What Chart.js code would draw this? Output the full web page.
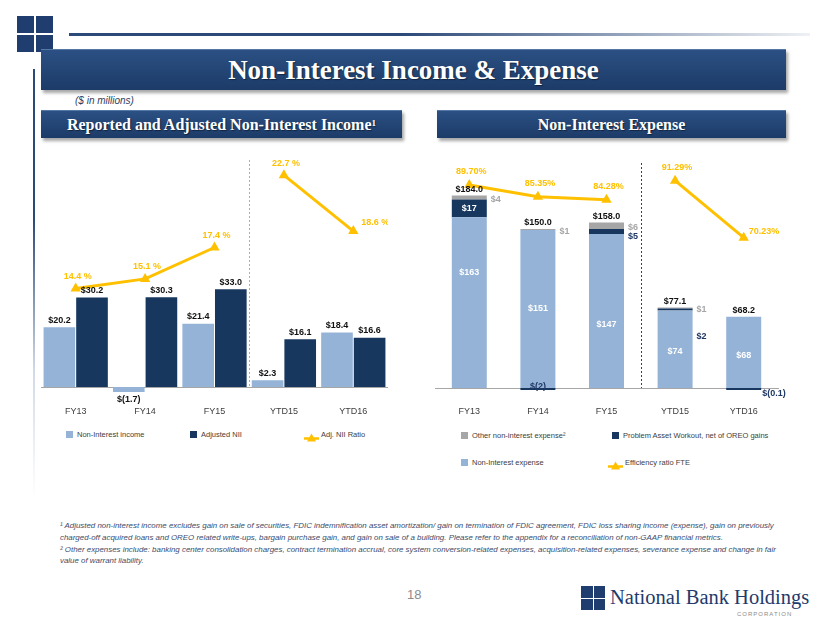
<!DOCTYPE html>
<html><head><meta charset="utf-8">
<script src="https://cdn.jsdelivr.net/npm/chart.js@4.4.1/dist/chart.umd.min.js"></script>
<style>
html,body{margin:0;padding:0;background:#fff;}
body{width:830px;height:623px;position:relative;overflow:hidden;font-family:'Liberation Sans',Arial,sans-serif;}
.abs{position:absolute;}
.sq{position:absolute;background:#203D70;}
.hbar{position:absolute;background:linear-gradient(#2B5083,#1C3B68);box-shadow:2px 3px 3px rgba(0,0,0,0.35);color:#fff;font-family:'Liberation Serif','Times New Roman',serif;font-weight:bold;display:flex;align-items:center;justify-content:center;border-top:1px solid #5577A3;box-sizing:border-box;text-shadow:1px 1px 1px rgba(0,0,0,0.45);white-space:nowrap;}
.leg{position:absolute;font-size:7.5px;color:#404040;white-space:nowrap;line-height:9px;}
.legsq{position:absolute;width:7px;height:7px;}
.foot{position:absolute;left:60px;top:520px;font-size:7.9px;font-style:italic;color:#3B4B6B;line-height:11.5px;white-space:nowrap;}
canvas{position:absolute;}
</style></head>
<body>
<!-- top logo -->
<div class="sq" style="left:17px;top:16px;width:17px;height:17px"></div>
<div class="sq" style="left:36px;top:16px;width:17px;height:17px"></div>
<div class="sq" style="left:17px;top:35px;width:17px;height:17px"></div>
<div class="sq" style="left:36px;top:35px;width:17px;height:17px"></div>
<div class="abs" style="left:69px;top:33px;width:741px;height:3px;background:linear-gradient(to right,#2C4A78 0%,#2C4A78 45%,rgba(44,74,120,0.08) 100%)"></div>
<div class="abs" style="left:33px;top:69px;width:2px;height:430px;background:linear-gradient(#2C4A78 0%,#2C4A78 35%,rgba(140,160,190,0.4) 70%,rgba(255,255,255,0) 100%)"></div>

<div class="hbar" style="left:41px;top:49px;width:745px;height:41px;font-size:27px;">Non-Interest Income &amp; Expense</div>
<div class="abs" style="left:75px;top:95px;font-size:10px;font-style:italic;color:#2E4063;line-height:12px;">($ in millions)</div>
<div class="hbar" style="left:41px;top:110px;width:361px;height:28px;font-size:16px;">Reported and Adjusted Non-Interest Income<sup style="font-size:9px;position:relative;top:-2px;">1</sup></div>
<div class="hbar" style="left:437px;top:110px;width:349px;height:28px;font-size:16px;">Non-Interest Expense</div>

<canvas id="c1" width="347" height="270" style="left:41px;top:150px;width:347px;height:270px"></canvas>
<canvas id="c2" width="378" height="270" style="left:435px;top:150px;width:378px;height:270px"></canvas>

<div id="legends"></div>

<div class="foot">¹ Adjusted non-interest income excludes gain on sale of securities, FDIC indemnification asset amortization/ gain on termination of FDIC agreement, FDIC loss sharing income (expense), gain on previously<br>charged-off acquired loans and OREO related write-ups, bargain purchase gain, and gain on sale of a building. Please refer to the appendix for a reconciliation of non-GAAP financial metrics.<br><div style="height:0.5px"></div>² Other expenses include: banking center consolidation charges, contract termination accrual, core system conversion-related expenses, acquisition-related expenses, severance expense and change in fair<br>value of warrant liability.</div>

<div class="abs" style="left:407px;top:587px;font-size:13px;color:#8C8C8C;line-height:15px;">18</div>

<!-- bottom logo -->
<div class="sq" style="left:581px;top:586px;width:11.5px;height:11.5px"></div>
<div class="sq" style="left:593.5px;top:586px;width:11.5px;height:11.5px"></div>
<div class="sq" style="left:581px;top:598.5px;width:11.5px;height:11.5px"></div>
<div class="sq" style="left:593.5px;top:598.5px;width:11.5px;height:11.5px"></div>
<div class="abs" style="left:610px;top:587px;font-family:'Liberation Serif','Times New Roman',serif;font-size:20.5px;line-height:20.5px;color:#1F3A6B;white-space:nowrap;">National Bank Holdings</div>
<div class="abs" style="left:737px;top:611px;font-size:6px;letter-spacing:1px;color:#8A8A8A;line-height:7px;">CORPORATION</div>

<script>
// ---------- data ----------
const categories = ['FY13', 'FY14', 'FY15', 'YTD15', 'YTD16'];
const nonInterestIncome = [20.2, -1.7, 21.4, 2.3, 18.4];
const adjustedNII = [30.2, 30.3, 33.0, 16.1, 16.6];
const adjNIIRatio = [14.4, 15.1, 17.4, 22.7, 18.6];
const nonInterestExpense = [163, 151, 147, 74, 68];
const problemAssetWorkout = [17, -2, 5, 2, -0.1];
const otherExpense = [4, 1, 6, 1, null];
const expenseTotals = [184.0, 150.0, 158.0, 77.1, 68.2];
const efficiencyRatio = [89.70, 85.35, 84.28, 91.29, 70.23];

// ---------- styles ----------
const C = {light:'#95B3D7', dark:'#17375E', gray:'#A6A6A6', gold:'#FFC000', navyText:'#1F3864'};
const FONT = "'Liberation Sans', Arial, sans-serif";
Chart.defaults.font.family = FONT;
const BOLD = 'bold 9px ' + FONT;

function money(v, dec) {
  const a = Math.abs(v);
  const s = dec == null ? (Number.isInteger(a) ? String(a) : a.toFixed(1)) : a.toFixed(dec);
  return v < 0 ? '$(' + s + ')' : '$' + s;
}

const sepPlugin = {
  id: 'sep',
  beforeDatasetsDraw(chart, args, opts) {
    const x = chart.scales.x;
    const px = Math.round((x.getPixelForValue(2) + x.getPixelForValue(3)) / 2) + 0.5;
    const ctx = chart.ctx;
    ctx.save();
    ctx.strokeStyle = opts.color; ctx.lineWidth = 1; ctx.setLineDash([2, 2]);
    ctx.beginPath(); ctx.moveTo(px, chart.chartArea.top + (opts.topOffset || 0)); ctx.lineTo(px, chart.chartArea.bottom); ctx.stroke();
    ctx.restore();
  }
};

const gapSegment = {borderColor: c => c.p0DataIndex === 2 ? 'rgba(0,0,0,0)' : C.gold};

function lineDataset(label, data) {
  return {type:'line', label, data, yAxisID:'y1', borderColor:C.gold, backgroundColor:C.gold,
    borderWidth:3, pointStyle:'triangle', pointRadius:6, pointBorderWidth:0,
    pointBackgroundColor:C.gold, order:0, clip:false, segment:gapSegment};
}

function xScale(pad, h) {
  return { grid:{display:false, drawTicks:false}, border:{display:true, color:'#A6A6A6', width:1},
    ticks:{color:'#404040', font:{size:9}, padding:pad},
    afterFit: s => { s.height = h; } };
}

// ---------- left chart ----------
const leftLabels = {
  id:'leftLabels',
  afterDatasetsDraw(chart) {
    const ctx = chart.ctx; ctx.save();
    ctx.textBaseline = 'middle'; ctx.font = BOLD;
    [1, 2].forEach(di => {
      const vals = chart.data.datasets[di].data;
      chart.getDatasetMeta(di).data.forEach((b, i) => {
        const v = vals[i];
        ctx.fillStyle = '#111'; ctx.textAlign = 'center';
        ctx.fillText(money(v, 1), b.x, v >= 0 ? b.y - 7 : b.y + 7);
      });
    });
    const pts = chart.getDatasetMeta(0).data;
    ctx.fillStyle = C.gold;
    pts.forEach((p, i) => {
      const t = adjNIIRatio[i].toFixed(1) + ' %';
      if (i === pts.length - 1) { ctx.textAlign = 'left'; ctx.fillText(t, p.x + 8, p.y - 9); }
      else { ctx.textAlign = 'center'; ctx.fillText(t, p.x + 2, p.y - 12); }
    });
    ctx.restore();
  }
};

new Chart(document.getElementById('c1'), {
  type:'bar',
  data:{ labels:categories, datasets:[
    lineDataset('Adj. NII Ratio', adjNIIRatio),
    {label:'Non-Interest income', data:nonInterestIncome, backgroundColor:C.light, order:1, clip:false, categoryPercentage:0.94, barPercentage:0.97},
    {label:'Adjusted NII', data:adjustedNII, backgroundColor:C.dark, order:1, clip:false, categoryPercentage:0.94, barPercentage:0.97}
  ]},
  options:{
    responsive:false, animation:false, devicePixelRatio:1,
    layout:{autoPadding:false, padding:{top:10, left:0, right:0, bottom:0}},
    plugins:{legend:{display:false}, tooltip:{enabled:false}, sep:{color:'#8DB3E2', topOffset:0}},
    scales:{
      x: xScale(19, 33),
      y:{display:false, min:0, max:76.7},
      y1:{display:false, min:7.18, max:23.81}
    }
  },
  plugins:[sepPlugin, leftLabels]
});

// ---------- right chart ----------
const lightLabelShift = [-30, 0, 13, 2, 3];
const darkPlacement = [{at:'inside'}, {at:'center', dy:-3}, {at:'right', dy:5}, {at:'right', dy:27}, {at:'right', dx:-3, dy:5}];
const rightLabels = {
  id:'rightLabels',
  afterDatasetsDraw(chart) {
    const ctx = chart.ctx; ctx.save();
    ctx.textBaseline = 'middle'; ctx.font = BOLD;
    const mL = chart.getDatasetMeta(1).data, mD = chart.getDatasetMeta(2).data, mG = chart.getDatasetMeta(3).data;
    mL.forEach((b, i) => {
      ctx.fillStyle = '#fff'; ctx.textAlign = 'center';
      ctx.fillText(money(nonInterestExpense[i]), b.x, (b.y + b.base) / 2 + lightLabelShift[i]);
    });
    mD.forEach((b, i) => {
      const v = problemAssetWorkout[i], p = darkPlacement[i];
      const cy = (b.y + b.base) / 2;
      if (p.at === 'inside') { ctx.fillStyle = '#fff'; ctx.textAlign = 'center'; ctx.fillText(money(v), b.x, cy); }
      else if (p.at === 'center') { ctx.fillStyle = C.navyText; ctx.textAlign = 'center'; ctx.fillText(money(v), b.x, cy + p.dy); }
      else { ctx.fillStyle = C.navyText; ctx.textAlign = 'left'; ctx.fillText(money(v), b.x + b.width / 2 + 4 + (p.dx || 0), cy + p.dy); }
    });
    mG.forEach((b, i) => {
      const v = otherExpense[i]; if (v == null) return;
      ctx.fillStyle = C.gray; ctx.textAlign = 'left';
      ctx.fillText(money(v), b.x + b.width / 2 + 4, (b.y + b.base) / 2 + 2);
    });
    mL.forEach((b, i) => {
      let top = Math.min(b.y, b.base);
      [[mD, problemAssetWorkout], [mG, otherExpense]].forEach(([m, vals]) => {
        if (vals[i] != null && vals[i] > 0) top = Math.min(top, m[i].y);
      });
      ctx.fillStyle = '#111'; ctx.textAlign = 'center';
      ctx.fillText(money(expenseTotals[i], 1), b.x, top - 6);
    });
    const pts = chart.getDatasetMeta(0).data;
    ctx.fillStyle = C.gold;
    pts.forEach((p, i) => {
      const t = efficiencyRatio[i].toFixed(2) + '%';
      if (i === pts.length - 1) { ctx.textAlign = 'left'; ctx.fillText(t, p.x + 5, p.y - 6); }
      else { ctx.textAlign = 'center'; ctx.fillText(t, p.x + 2, p.y - 13); }
    });
    ctx.restore();
  }
};

new Chart(document.getElementById('c2'), {
  type:'bar',
  data:{ labels:categories, datasets:[
    lineDataset('Efficiency ratio FTE', efficiencyRatio),
    {label:'Non-Interest expense', data:nonInterestExpense, backgroundColor:C.light, stack:'s', order:1, clip:false, categoryPercentage:1, barPercentage:0.51},
    {label:'Problem Asset Workout, net of OREO gains', data:problemAssetWorkout, backgroundColor:C.dark, stack:'s', order:1, clip:false, categoryPercentage:1, barPercentage:0.51, minBarLength:2},
    {label:'Other non-interest expense²', data:otherExpense, backgroundColor:C.gray, stack:'s', order:1, clip:false, categoryPercentage:1, barPercentage:0.51}
  ]},
  options:{
    responsive:false, animation:false, devicePixelRatio:1,
    layout:{autoPadding:false, padding:{top:10, left:0, right:35, bottom:0}},
    plugins:{legend:{display:false}, tooltip:{enabled:false}, sep:{color:'#1F497D', topOffset:3}},
    scales:{
      x: Object.assign(xScale(18, 32), {stacked:true}),
      y:{display:false, stacked:true, min:0, max:217.8},
      y1:{display:false, min:14.70, max:98.93}
    }
  },
  plugins:[sepPlugin, rightLabels]
});

// ---------- legends (HTML, built from dataset labels/colours) ----------
const legendItems = [
  {label:'Non-Interest income', color:C.light, x:66, y:434},
  {label:'Adjusted NII', color:C.dark, x:190, y:434},
  {label:'Adj. NII Ratio', line:true, x:304, y:434},
  {label:'Other non-interest expense²', color:C.gray, x:461, y:435},
  {label:'Problem Asset Workout, net of OREO gains', color:C.dark, x:612, y:435},
  {label:'Non-Interest expense', color:C.light, x:461, y:462},
  {label:'Efficiency ratio FTE', line:true, x:608, y:462}
];
const host = document.getElementById('legends');
legendItems.forEach(it => {
  let mk;
  if (it.line) {
    mk = document.createElement('div');
    mk.className = 'abs';
    mk.style.left = it.x + 'px'; mk.style.top = (it.y - 5) + 'px';
    mk.innerHTML = '<svg width="15" height="10"><line x1="0" y1="5.5" x2="15" y2="5.5" stroke="' + C.gold + '" stroke-width="2.5"/><polygon points="7.5,0.5 12,8.5 3,8.5" fill="' + C.gold + '"/></svg>';
  } else {
    mk = document.createElement('div');
    mk.className = 'legsq';
    mk.style.left = it.x + 'px'; mk.style.top = (it.y - 3.5) + 'px'; mk.style.background = it.color;
  }
  host.appendChild(mk);
  const t = document.createElement('div');
  t.className = 'leg';
  t.style.left = (it.x + (it.line ? 17 : 11)) + 'px'; t.style.top = (it.y - 4.5) + 'px';
  t.textContent = it.label;
  host.appendChild(t);
});
</script>
</body></html>
